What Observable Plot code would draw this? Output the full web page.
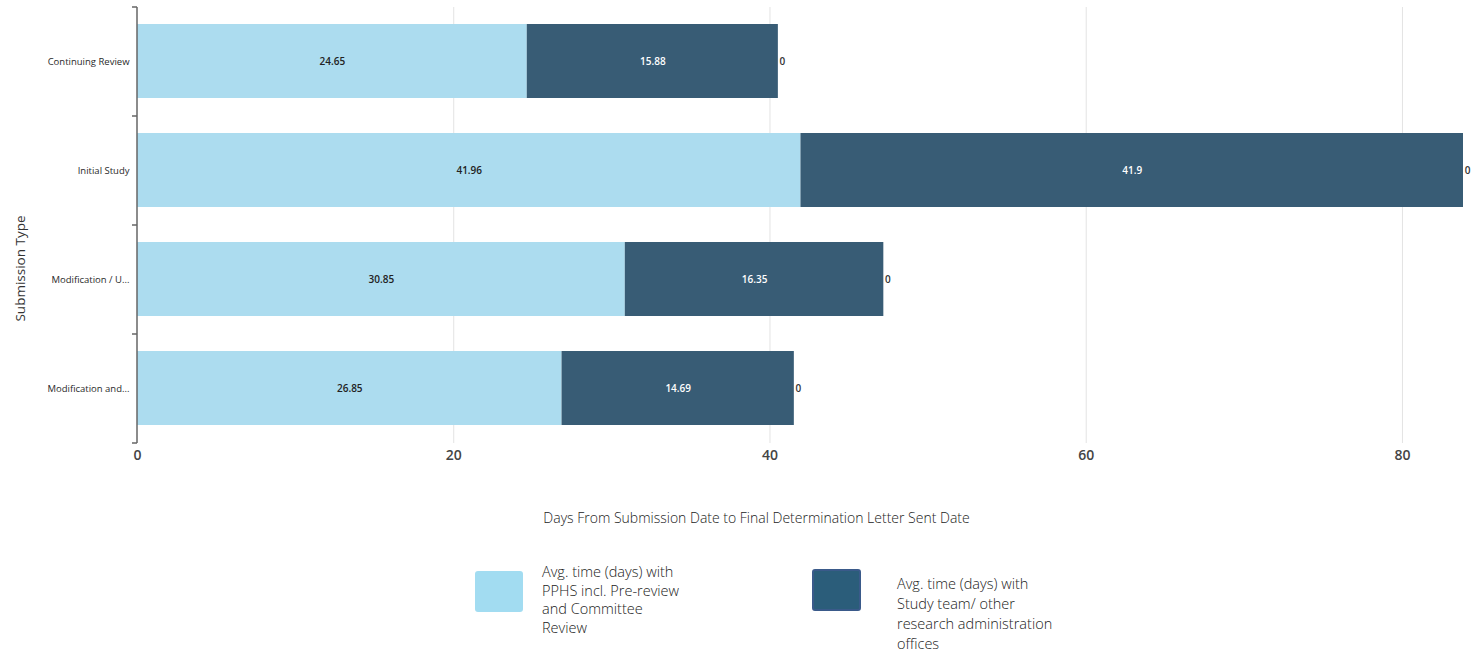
<!DOCTYPE html>
<html>
<head>
<meta charset="utf-8">
<script src="https://cdn.jsdelivr.net/npm/d3@7"></script>
<script src="https://cdn.jsdelivr.net/npm/@observablehq/plot@0.6"></script>
<style>
  html, body { margin: 0; padding: 0; background: #fff; }
  #wrap { position: relative; width: 1474px; height: 655px; font-family: "Open Sans", sans-serif; }
  .swatch { position: absolute; border-radius: 3px; box-sizing: border-box; }
  .legend-text { position: absolute; font-size: 14.5px; color: #222; font-weight: 300; white-space: nowrap; }
</style>
</head>
<body>
<div id="wrap">
  <div id="chart"></div>
  <div class="swatch" style="left:475px; top:571px; width:48px; height:41px; background:#a2dcf1;"></div>
  <div class="legend-text" style="left:542px; top:563px; line-height:18.5px;">Avg. time (days) with<br>PPHS incl. Pre-review<br>and Committee<br>Review</div>
  <div class="swatch" style="left:812px; top:569px; width:49px; height:42px; background:#2b5d7a; border:2px solid #3a5a8a;"></div>
  <div class="legend-text" style="left:897px; top:574px; line-height:20px;">Avg. time (days) with<br>Study team/ other<br>research administration<br>offices</div>
</div>
<script>
const types = ["Continuing Review", "Initial Study", "Modification / U...", "Modification and..."];
const seriesNames = [
  "Avg. time (days) with PPHS incl. Pre-review and Committee Review",
  "Avg. time (days) with Study team/ other research administration offices",
  "Other"
];
const pphsDays = [24.65, 41.96, 30.85, 26.85];
const studyTeamDays = [15.88, 41.9, 16.35, 14.69];
const otherDays = [0, 0, 0, 0];
const xTicks = [0, 20, 40, 60, 80];
const seriesColors = ["#acdcef", "#385c75", "#385c75"];
const labelColors = ["#222", "#fff", "#333"];

const seriesValues = [pphsDays, studyTeamDays, otherDays];
const data = [];
seriesValues.forEach((vals, si) => {
  types.forEach((t, ti) => data.push({type: t, series: seriesNames[si], si, value: vals[ti]}));
});
const totals = types.map((t, i) => pphsDays[i] + studyTeamDays[i] + otherDays[i]);

function boundaryTicks(index, scales, values, dims) {
  const g = d3.create("svg:g");
  const top = dims.marginTop, bottom = dims.height - dims.marginBottom;
  const n = types.length;
  const x0 = scales.x(0);
  for (let i = 0; i <= n; i++) {
    const y = top + (bottom - top) * i / n;
    g.append("line").attr("x1", x0 - 5).attr("x2", x0).attr("y1", y).attr("y2", y)
      .attr("stroke", "#666").attr("stroke-width", 1.5);
  }
  g.append("line").attr("x1", x0).attr("x2", x0).attr("y1", top).attr("y2", bottom)
    .attr("stroke", "#666").attr("stroke-width", 1.5);
  return g.node();
}

const stackOpts = {x: "value", y: "type", z: "series", order: null};

const chart = Plot.plot({
  width: 1474,
  height: 540,
  marginLeft: 137,
  marginRight: 11,
  marginTop: 7,
  marginBottom: 97,
  style: {fontFamily: "'Open Sans', sans-serif", background: "#fff"},
  x: {domain: [0, d3.max(totals)], label: null},
  y: {domain: types, paddingInner: 0.32, paddingOuter: 0.16, label: null},
  marks: [
    Plot.gridX(xTicks.slice(1), {stroke: "#e3e3e3", strokeOpacity: 1, strokeWidth: 1}),
    Plot.barX(data, Plot.stackX({...stackOpts, fill: d => seriesColors[d.si]})),
    Plot.text(data, Plot.stackX({
      ...stackOpts,
      text: d => d.si < 2 ? String(d.value) : null,
      fill: d => labelColors[d.si],
      fontSize: 10, fontWeight: 600
    })),
    Plot.text(data, Plot.stackX({
      ...stackOpts,
      text: d => d.si === 2 ? String(d.value) : null,
      fill: "#333",
      dx: 4,
      fontSize: 10, fontWeight: 600
    })),
    boundaryTicks,
    Plot.axisX({ticks: xTicks, tickSize: 0, tickPadding: 7, fontSize: 14, fontWeight: 600, fill: "#444", label: null}),
    Plot.axisY({tickSize: 0, tickPadding: 8, fontSize: 9.5, fontWeight: 500, fill: "#2a2a2a", label: null}),
    Plot.text(["Submission Type"], {frameAnchor: "left", textAnchor: "middle", text: d => d, rotate: -90, dx: -117, dy: 43, fontSize: 13.5, fontWeight: 500, fill: "#333"}),
    Plot.text(["Days From Submission Date to Final Determination Letter Sent Date"], {frameAnchor: "bottom", text: d => d, dx: -44, dy: 79, fontSize: 14, fontWeight: 300, fill: "#222"})
  ]
});
document.getElementById("chart").appendChild(chart);
</script>
</body>
</html>
